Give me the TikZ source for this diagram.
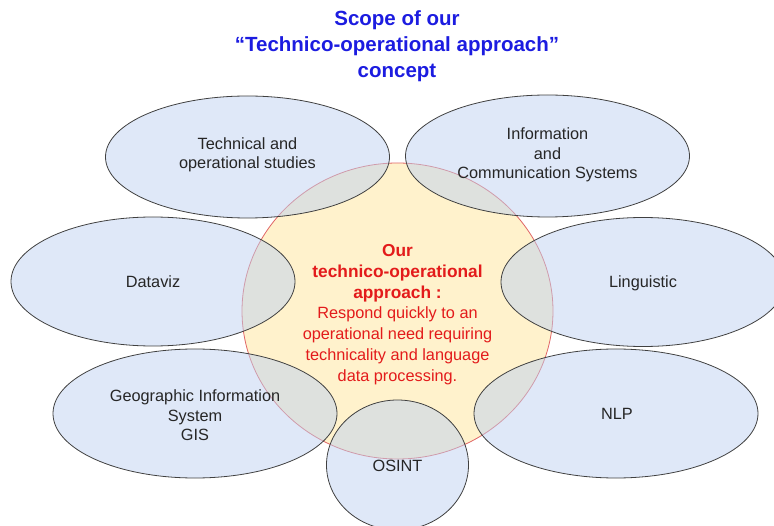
\documentclass[tikz,border=0pt]{standalone}
\usepackage{fontspec}
\setmainfont{Liberation Sans}
\usetikzlibrary{shapes.geometric}

\definecolor{titleblue}{HTML}{1C1CE0}
\definecolor{corered}{HTML}{E31B1B}
\definecolor{coreline}{HTML}{E06666}
\definecolor{corefill}{HTML}{FFF2CC}
\definecolor{areafill}{HTML}{BFD1F1}

\newcommand{\corebold}[1]{{\fontsize{17.3}{20.8}\selectfont\bfseries #1}}

\begin{document}
\begin{tikzpicture}[
    x=1pt, y=-1pt,
    area/.style={ellipse, draw=black!75, line width=0.8pt, fill=areafill, fill opacity=0.5,
        inner sep=0pt, minimum width=284pt, minimum height=129pt},
    core/.style={ellipse, draw=coreline, line width=0.8pt, fill=corefill, inner sep=0pt,
        minimum width=311pt, minimum height=296pt},
    tag/.style={font=\fontsize{16.3}{19.5}\selectfont, text=black!85, align=center},
    coretext/.style={font=\fontsize{16.3}{20.8}\selectfont, text=corered, align=center},
    heading/.style={font=\fontsize{20.5}{26}\selectfont\bfseries, text=titleblue, align=center}
]
\useasboundingbox (0,0) rectangle (774,526);

% Title
\node[heading] (title) at (397,46.5) {Scope of our\\``Technico-operational approach''\\concept};

% Central approach
\node[core] (core) at (397.5,311) {};

% Surrounding fields
\node[area, minimum height=122pt] (tech) at (247.5,157) {};
\node[area, minimum height=122pt] (ics) at (547.5,156) {};
\node[area] (dataviz) at (153,281.5) {};
\node[area] (ling) at (643,282) {};
\node[area] (gis) at (195,413.5) {};
\node[area] (nlp) at (616,413.5) {};
\node[area, minimum width=142pt, minimum height=130pt] (osint) at (397.5,465) {};

% Labels
\node[tag] (techlabel) at (247.5,155) {Technical and\\operational studies};
\node[tag] (icslabel) at (547.5,155) {Information\\and\\Communication Systems};
\node[tag] (datavizlabel) at (153,282) {Dataviz};
\node[tag] (linglabel) at (643,283) {Linguistic};
\node[tag] (gislabel) at (195,415.5) {Geographic Information\\System\\GIS};
\node[tag] (nlplabel) at (617,414) {NLP};
\node[tag] (osintlabel) at (397.5,465.5) {OSINT};
\node[coretext] (corelabel) at (397.5,314.5) {\corebold{Our}\\\corebold{technico-operational}\\\corebold{approach :}\\Respond quickly to an\\operational need requiring\\technicality and language\\data processing.};

\end{tikzpicture}
\end{document}
